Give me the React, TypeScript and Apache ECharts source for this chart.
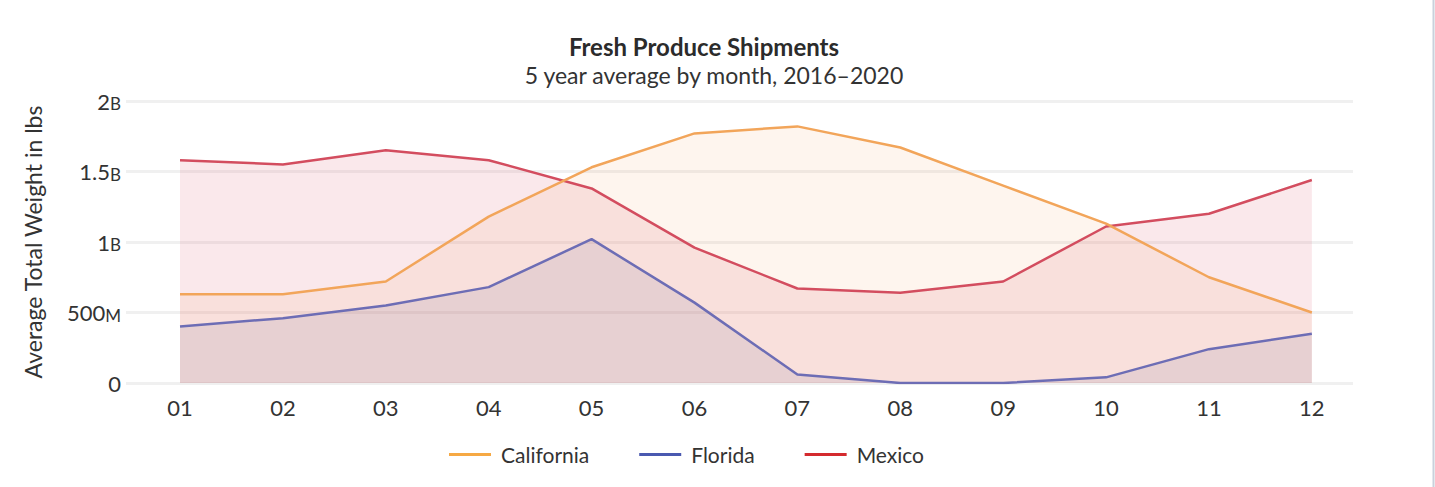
import React, { useEffect, useRef } from "react";
import * as echarts from "echarts";

const categories = ["01", "02", "03", "04", "05", "06", "07", "08", "09", "10", "11", "12"];
const california = [0.63, 0.63, 0.72, 1.18, 1.53, 1.77, 1.82, 1.67, 1.4, 1.13, 0.75, 0.5];
const florida = [0.4, 0.46, 0.55, 0.68, 1.02, 0.57, 0.06, 0.0, 0.0, 0.04, 0.24, 0.35];
const mexico = [1.58, 1.55, 1.65, 1.58, 1.38, 0.96, 0.67, 0.64, 0.72, 1.11, 1.2, 1.44];
const yTicks = [0, 0.5e9, 1e9, 1.5e9, 2e9];

const FONT = "Lato, 'Noto Sans', sans-serif";

function fmtY(v: number): string {
  if (v === 0) return "{n|0}";
  if (v >= 1e9) return `{n|${v / 1e9}}{s|B}`;
  return `{n|${v / 1e6}}{s|M}`;
}

export default function App() {
  const ref = useRef<HTMLDivElement>(null);
  useEffect(() => {
    if (!ref.current) return;
    const chart = echarts.init(ref.current, undefined, { renderer: "svg" });
    const toPairs = (arr: number[]) => categories.map((_, i) => [i + 1, arr[i] * 1e9]);
    const mk = (name: string, arr: number[], line: string, fill: string) => ({
      name,
      type: "line",
      data: toPairs(arr),
      showSymbol: false,
      symbol: "none",
      lineStyle: { color: line, width: 2.5 },
      itemStyle: { color: line },
      areaStyle: { color: fill, origin: "start" },
    });
    chart.setOption({
      animation: false,
      textStyle: { fontFamily: FONT },
      graphic: [
        {
          type: "text",
          x: 704,
          y: 46,
          style: { text: "Fresh Produce Shipments", font: `bold 24px ${FONT}`, fill: "#2b2b2b", align: "center", verticalAlign: "middle" },
        },
        {
          type: "text",
          x: 714,
          y: 75,
          style: { text: "5 year average by month, 2016\u20132020", font: `23px ${FONT}`, fill: "#333", align: "center", verticalAlign: "middle" },
        },
        {
          type: "line",
          shape: { x1: 1433.5, y1: 0, x2: 1433.5, y2: 487 },
          style: { stroke: "#c9d1dc", lineWidth: 2 },
        },
      ],
      grid: { left: 126, right: 82, top: 101, bottom: 104 },
      legend: {
        top: 439,
        left: 444,
        icon: "rect",
        itemWidth: 42,
        itemHeight: 3,
        itemGap: 50,
        textStyle: { fontSize: 21, color: "#333", fontFamily: FONT, padding: [0, 0, 0, 5] },
        data: [
          { name: "California", itemStyle: { color: "#f6a944" } },
          { name: "Florida", itemStyle: { color: "#4a59b0" } },
          { name: "Mexico", itemStyle: { color: "#d42a2e" } },
        ],
      },
      xAxis: {
        type: "value",
        min: 0.475,
        max: 12.4,
        splitLine: { show: false },
        axisLine: { show: false },
        axisTick: { show: false },
        axisLabel: {
          customValues: categories.map((_, i) => i + 1),
          formatter: (v: number) => categories[Math.round(v) - 1] ?? "",
          fontSize: 22,
          color: "#333",
          margin: 13,
        },
      },
      yAxis: {
        type: "value",
        min: 0,
        max: 2e9,
        interval: 5e8,
        name: "Average Total Weight in lbs",
        nameLocation: "middle",
        nameRotate: 90,
        nameGap: 82,
        nameTextStyle: { fontSize: 23, color: "#333", fontFamily: FONT },
        axisLine: { show: false },
        axisTick: { show: false },
        splitLine: { lineStyle: { color: "#f0f0f0", width: 3 } },
        axisLabel: {
          customValues: yTicks,
          formatter: fmtY,
          margin: 5,
          rich: {
            n: { fontSize: 22, color: "#333", fontFamily: FONT },
            s: { fontSize: 17, color: "#333", fontFamily: FONT, verticalAlign: "bottom", padding: [4, 0, 0, 0] },
          },
        },
      },
      series: [
        mk("Mexico", mexico, "#d34d5f", "rgba(222,90,110,0.2)"),
        mk("California", california, "#f2a55a", "rgba(245,165,90,0.15)"),
        mk("Florida", florida, "#6d6db5", "rgba(100,85,135,0.16)"),
      ],
    });
    return () => chart.dispose();
  }, []);
  return <div ref={ref} style={{ position: "fixed", left: 0, top: 0, width: 1435, height: 487, background: "#fff" }} />;
}
